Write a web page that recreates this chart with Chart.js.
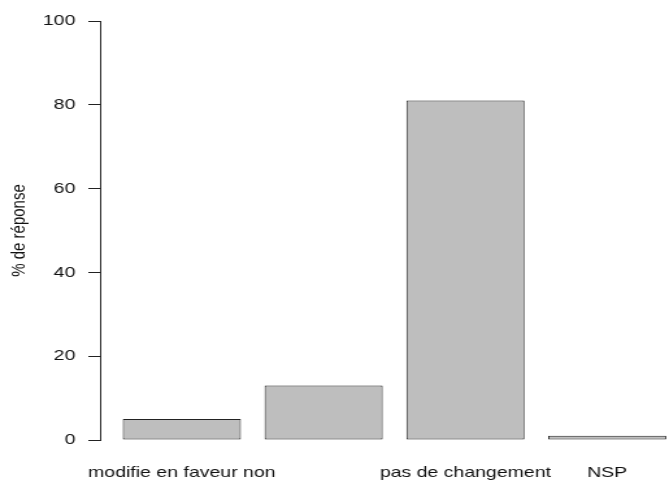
<!DOCTYPE html>
<html>
<head>
<meta charset="utf-8">
<script src="https://cdn.jsdelivr.net/npm/chart.js@4/dist/chart.umd.min.js"></script>
<style>
  html, body { margin: 0; padding: 0; background: #fff; overflow: hidden; }
  /* the reference picture is stretched sideways, so draw narrow and stretch it */
  #wrap { width: 515px; height: 483px; transform: scaleX(1.299); transform-origin: 0 0; }
</style>
</head>
<body>
<div id="wrap"><canvas id="chart"></canvas></div>
<script>
// second label is hidden in the original (overlaps the first one)
const categories = ['modifie en faveur non', '', 'pas de changement', 'NSP'];
const percentages = [5, 13, 81, 1];
const yTicks = [0, 20, 40, 60, 80, 100];

const ctx = document.getElementById('chart').getContext('2d');
const baseFont = { family: "'Liberation Sans', Arial, sans-serif", size: 15 };
Chart.defaults.font.family = baseFont.family;
Chart.defaults.font.size = baseFont.size;
Chart.defaults.color = '#111';

new Chart(ctx, {
    type: 'bar',
    data: {
        datasets: [{
            label: '% de réponse',
            data: percentages.map((v, i) => ({ x: i, y: v })),
            backgroundColor: '#bebebe',
            borderColor: '#222',
            borderWidth: 1,
            borderSkipped: false,
            categoryPercentage: 1,
            barPercentage: 1 / 1.2
        }]
    },
    options: {
        responsive: true,
        maintainAspectRatio: false,
        animation: false,
        layout: { padding: { top: 21, right: 0, bottom: 2, left: 0 } },
        plugins: {
            legend: { display: false },
            tooltip: { enabled: false }
        },
        scales: {
            x: {
                type: 'linear',
                offset: false,
                min: -0.577,
                max: 3.436,
                grid: { display: false, drawTicks: false, offset: false },
                border: { display: false },
                afterBuildTicks: scale => {
                    scale.ticks = categories.map((c, i) => ({ value: i }));
                },
                afterFit: scale => {
                    // no extra room for the wide first label, like R
                    scale.paddingLeft = 0;
                    scale.paddingRight = 0;
                    scale.height = 41;
                },
                ticks: {
                    autoSkip: false,
                    maxRotation: 0,
                    minRotation: 0,
                    padding: 24,
                    font: baseFont,
                    callback: value => categories[value]
                }
            },
            y: {
                min: 0,
                max: 100,
                afterBuildTicks: scale => {
                    scale.ticks = yTicks.map(v => ({ value: v }));
                },
                afterFit: scale => { scale.width = 77; },
                grid: { drawOnChartArea: false, tickLength: 9, color: '#222' },
                border: { color: '#222' },
                ticks: { padding: 10, font: baseFont },
                title: {
                    display: true,
                    text: '% de réponse',
                    font: baseFont,
                    padding: { top: 6, bottom: 0 }
                }
            }
        }
    }
});
</script>
</body>
</html>
